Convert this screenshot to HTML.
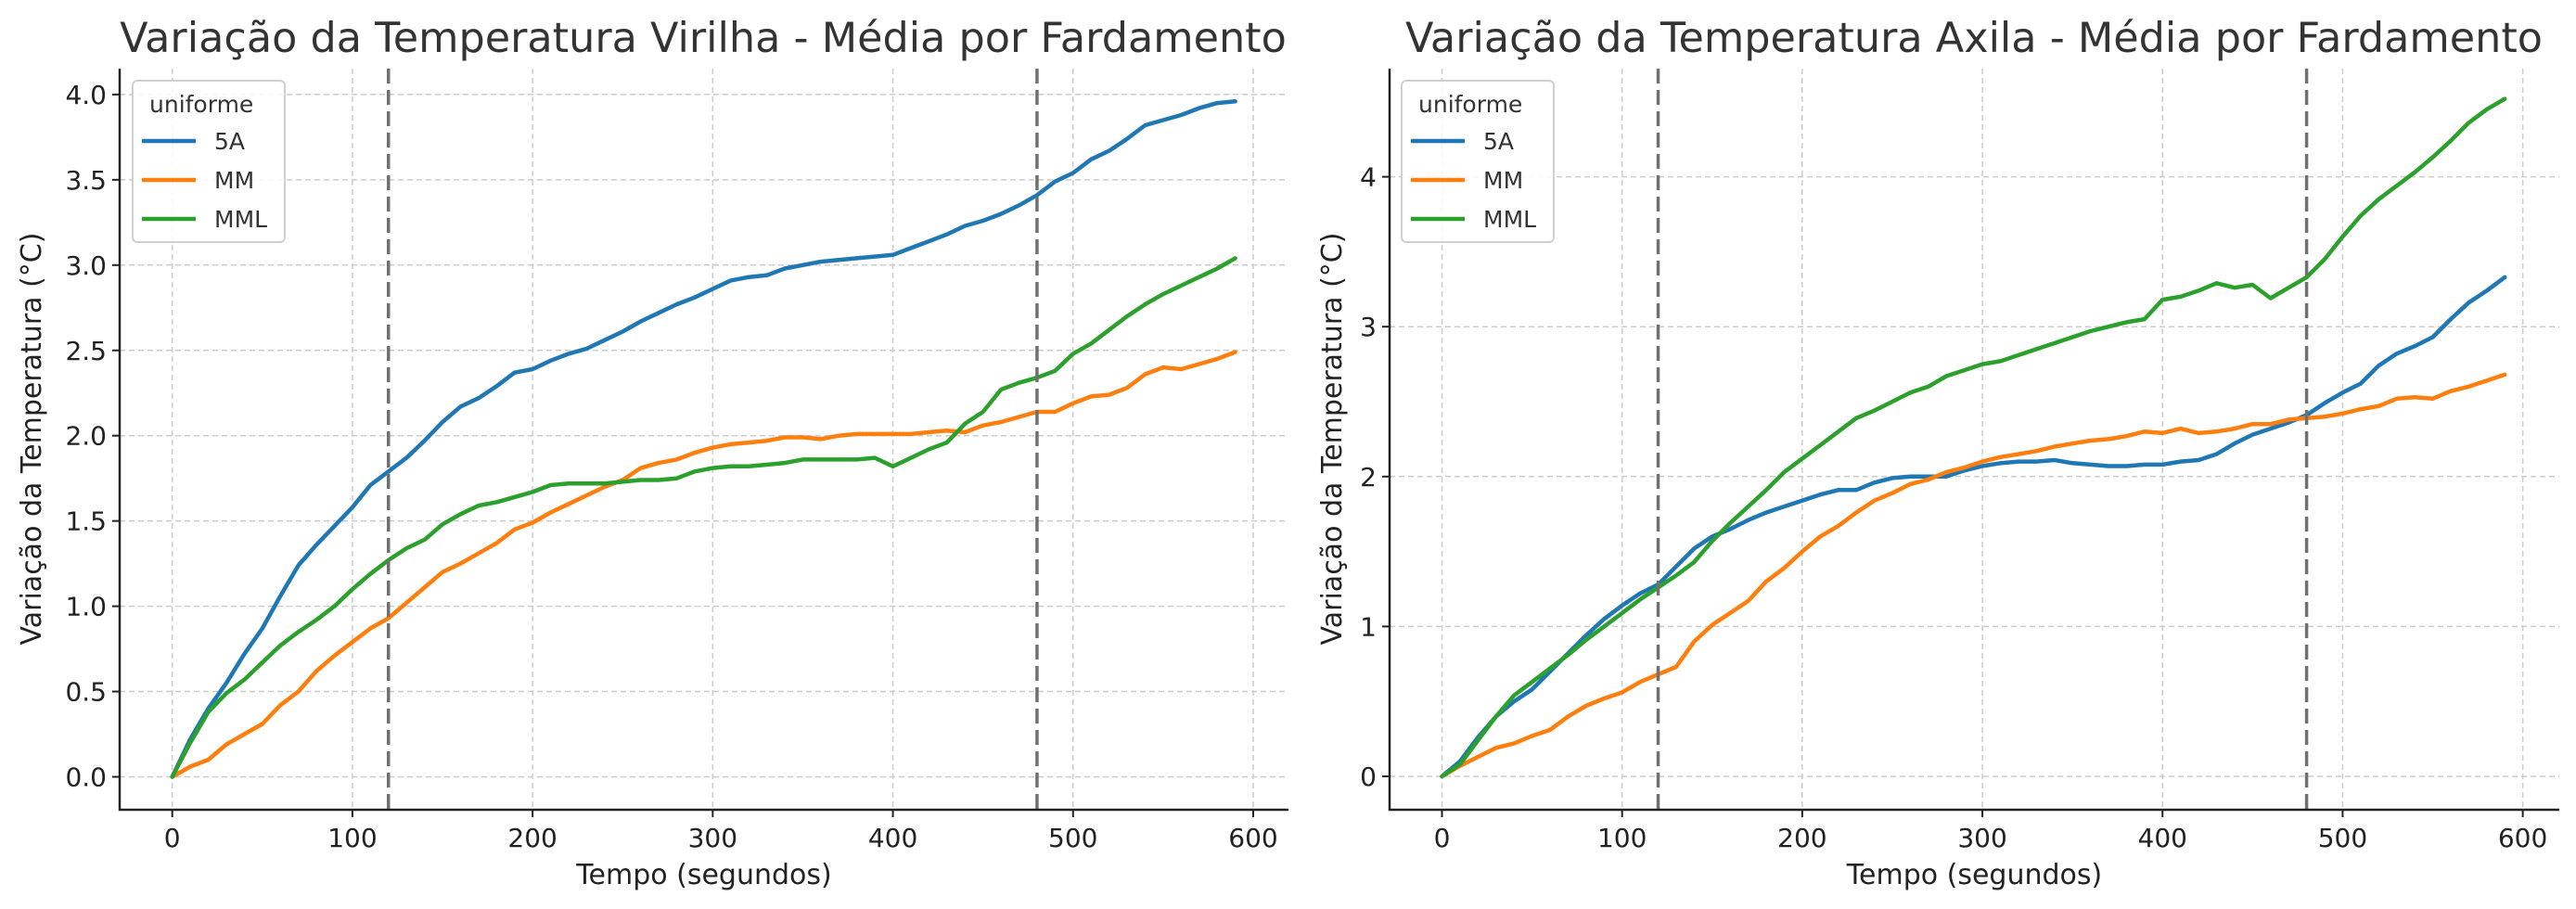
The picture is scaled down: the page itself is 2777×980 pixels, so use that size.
<!DOCTYPE html>
<html><head><meta charset="utf-8"><style>
body{margin:0;background:#fff}
svg{display:block;font-family:"DejaVu Sans","Liberation Sans",sans-serif}
</style></head><body>
<svg id="chart" width="2777" height="980" xmlns="http://www.w3.org/2000/svg"></svg>
<script>
const times = Array.from({length:60},(_,i)=>i*10);
const seriesNames = ["5A","MM","MML"];
const virilha5A = [0,.22,.4,.55,.72,.87,1.06,1.24,1.36,1.47,1.58,1.71,1.79,1.87,1.97,2.08,2.17,2.22,2.29,2.37,2.39,2.44,2.48,2.51,2.56,2.61,2.67,2.72,2.77,2.81,2.86,2.91,2.93,2.94,2.98,3.0,3.02,3.03,3.04,3.05,3.06,3.10,3.14,3.18,3.23,3.26,3.30,3.35,3.41,3.49,3.54,3.62,3.67,3.74,3.82,3.85,3.88,3.92,3.95,3.96];
const virilhaMM = [0,.06,.1,.19,.25,.31,.42,.5,.62,.71,.79,.87,.93,1.02,1.11,1.2,1.25,1.31,1.37,1.45,1.49,1.55,1.6,1.65,1.7,1.74,1.81,1.84,1.86,1.9,1.93,1.95,1.96,1.97,1.99,1.99,1.98,2.0,2.01,2.01,2.01,2.01,2.02,2.03,2.02,2.06,2.08,2.11,2.14,2.14,2.19,2.23,2.24,2.28,2.36,2.4,2.39,2.42,2.45,2.49];
const virilhaMML = [0,.2,.38,.49,.57,.67,.77,.85,.92,1.0,1.1,1.19,1.27,1.34,1.39,1.48,1.54,1.59,1.61,1.64,1.67,1.71,1.72,1.72,1.72,1.73,1.74,1.74,1.75,1.79,1.81,1.82,1.82,1.83,1.84,1.86,1.86,1.86,1.86,1.87,1.82,1.87,1.92,1.96,2.07,2.14,2.27,2.31,2.34,2.38,2.48,2.54,2.62,2.7,2.77,2.83,2.88,2.93,2.98,3.04];
const axila5A = [0,.1,.26,.4,.5,.58,.7,.82,.94,1.05,1.14,1.22,1.28,1.4,1.52,1.6,1.65,1.71,1.76,1.8,1.84,1.88,1.91,1.91,1.96,1.99,2.0,2.0,2.0,2.04,2.07,2.09,2.1,2.1,2.11,2.09,2.08,2.07,2.07,2.08,2.08,2.1,2.11,2.15,2.22,2.28,2.32,2.36,2.41,2.49,2.56,2.62,2.74,2.82,2.87,2.93,3.05,3.16,3.24,3.33];
const axilaMM = [0,.07,.13,.19,.22,.27,.31,.4,.47,.52,.56,.63,.68,.73,.9,1.01,1.09,1.17,1.3,1.39,1.5,1.6,1.67,1.76,1.84,1.89,1.95,1.98,2.03,2.06,2.1,2.13,2.15,2.17,2.2,2.22,2.24,2.25,2.27,2.3,2.29,2.32,2.29,2.3,2.32,2.35,2.35,2.38,2.39,2.4,2.42,2.45,2.47,2.52,2.53,2.52,2.57,2.6,2.64,2.68];
const axilaMML = [0,.08,.24,.4,.54,.63,.72,.81,.91,1.0,1.09,1.18,1.26,1.34,1.43,1.57,1.69,1.8,1.91,2.03,2.12,2.21,2.3,2.39,2.44,2.5,2.56,2.6,2.67,2.71,2.75,2.77,2.81,2.85,2.89,2.93,2.97,3.0,3.03,3.05,3.18,3.2,3.24,3.29,3.26,3.28,3.19,3.26,3.33,3.45,3.6,3.74,3.85,3.94,4.03,4.13,4.24,4.36,4.45,4.52];
const xTicks = [0,100,200,300,400,500,600];
const yTicksLeft = [0,0.5,1,1.5,2,2.5,3,3.5,4];
const yTicksRight = [0,1,2,3,4];
const yTickLabelsLeft = ["0.0","0.5","1.0","1.5","2.0","2.5","3.0","3.5","4.0"];
const yTickLabelsRight = ["0","1","2","3","4"];
const vLines = [120,480];
const colors = ["#1f77b4","#ff7f0e","#2ca02c"];

const svg = document.getElementById('chart');
const NS = "http://www.w3.org/2000/svg";
function mk(tag, attrs, parent){const e=document.createElementNS(NS,tag);for(const k in attrs)e.setAttribute(k,attrs[k]);(parent||svg).appendChild(e);return e;}

function drawPanel(cfg){
  const g = mk('g',{});
  
  
  const X = t => cfg.x0 + (t/600)*(cfg.x600-cfg.x0);
  const Y = v => cfg.y0 - v*cfg.yUnit;
  xTicks.forEach(t=>{
    const l=mk('line',{x1:X(t),x2:X(t),y1:cfg.top,y2:cfg.bottom,stroke:'#cccccc','stroke-width':1.5,'stroke-dasharray':'6,4'},g);
    
    
  });
  cfg.yTicks.forEach(v=>{
    const l=mk('line',{x1:cfg.left,x2:cfg.right,y1:Y(v),y2:Y(v),stroke:'#cccccc','stroke-width':1.5,'stroke-dasharray':'6,4'},g);
    
    
  });
  cfg.series.forEach((arr,si)=>{
    const d = arr.map((v,i)=>(i?'L':'M')+X(times[i]).toFixed(1)+','+Y(v).toFixed(1)).join(' ');
    const p=mk('path',{d:d,fill:'none',stroke:colors[si],'stroke-width':4.5,'stroke-linejoin':'round','stroke-linecap':'round'},g);
    
    
  });
  vLines.forEach(t=>{
    const l=mk('line',{x1:X(t),x2:X(t),y1:cfg.top,y2:cfg.bottom,stroke:'#707070','stroke-width':3.5,'stroke-dasharray':'16,7'},g);
    
    
  });
  const sp=mk('path',{d:`M${cfg.left},${cfg.top} L${cfg.left},${cfg.bottom} L${cfg.right},${cfg.bottom}`,fill:'none',stroke:'#222','stroke-width':2.5},g);
  
  
  xTicks.forEach(t=>{
    mk('line',{x1:X(t),x2:X(t),y1:cfg.bottom,y2:cfg.bottom+8,stroke:'#222','stroke-width':2},g);
    const tx=mk('text',{x:X(t),y:cfg.bottom+40,'text-anchor':'middle','font-size':28,fill:'#222'},g);
    tx.textContent=t;
    
    
  });
  cfg.yTicks.forEach((v,i)=>{
    mk('line',{x1:cfg.left-8,x2:cfg.left,y1:Y(v),y2:Y(v),stroke:'#222','stroke-width':2},g);
    const tx=mk('text',{x:cfg.left-14,y:Y(v)+10,'text-anchor':'end','font-size':28,fill:'#222'},g);
    tx.textContent=cfg.yLabels[i];
    
    
  });
  const ti=mk('text',{x:cfg.titleX,y:56,'text-anchor':'middle','font-size':44.5,fill:'#333'},g);
  ti.textContent=cfg.title;
  
  
  const xl=mk('text',{x:(cfg.left+cfg.right)/2,y:953,'text-anchor':'middle','font-size':30,fill:'#222'},g);
  xl.textContent='Tempo (segundos)';
  
  
  const yl=mk('text',{x:0,y:0,'text-anchor':'middle','font-size':30,fill:'#222',transform:`translate(${cfg.yLabelX},473) rotate(-90)`},g);
  yl.textContent='Variação da Temperatura (°C)';
  
  
  const lg=mk('g',{},g);
  
  
  mk('rect',{x:cfg.legX,y:87,width:164,height:174,rx:5,fill:'#fff','fill-opacity':0.85,stroke:'#d0d0d0','stroke-width':2},lg);
  const lt=mk('text',{x:cfg.legX+18,y:121,'font-size':25,fill:'#333'},lg);
  lt.textContent='uniforme';
  
  
  seriesNames.forEach((n,i)=>{
    const yy=152+i*42;
    const e=mk('g',{},lg);
    
    
    mk('line',{x1:cfg.legX+10,x2:cfg.legX+68,y1:yy,y2:yy,stroke:colors[i],'stroke-width':4.5},e);
    const t=mk('text',{x:cfg.legX+88,y:yy+9,'font-size':25,fill:'#333'},e);
    t.textContent=n;
  });
}

drawPanel({name:'virilha-panel',x0:185.7,x600:1351,y0:837.5,yUnit:183.9,left:129,right:1389,top:74,bottom:873,
  yTicks:yTicksLeft,yLabels:yTickLabelsLeft,series:[virilha5A,virilhaMM,virilhaMML],
  title:'Variação da Temperatura Virilha - Média por Fardamento',titleX:758,yLabelX:44,legX:143});
drawPanel({name:'axila-panel',x0:1554.5,x600:2719.6,y0:837,yUnit:161.6,left:1498,right:2759,top:74,bottom:873,
  yTicks:yTicksRight,yLabels:yTickLabelsRight,series:[axila5A,axilaMM,axilaMML],
  title:'Variação da Temperatura Axila - Média por Fardamento',titleX:2128,yLabelX:1446,legX:1511});
</script>
</body></html>
